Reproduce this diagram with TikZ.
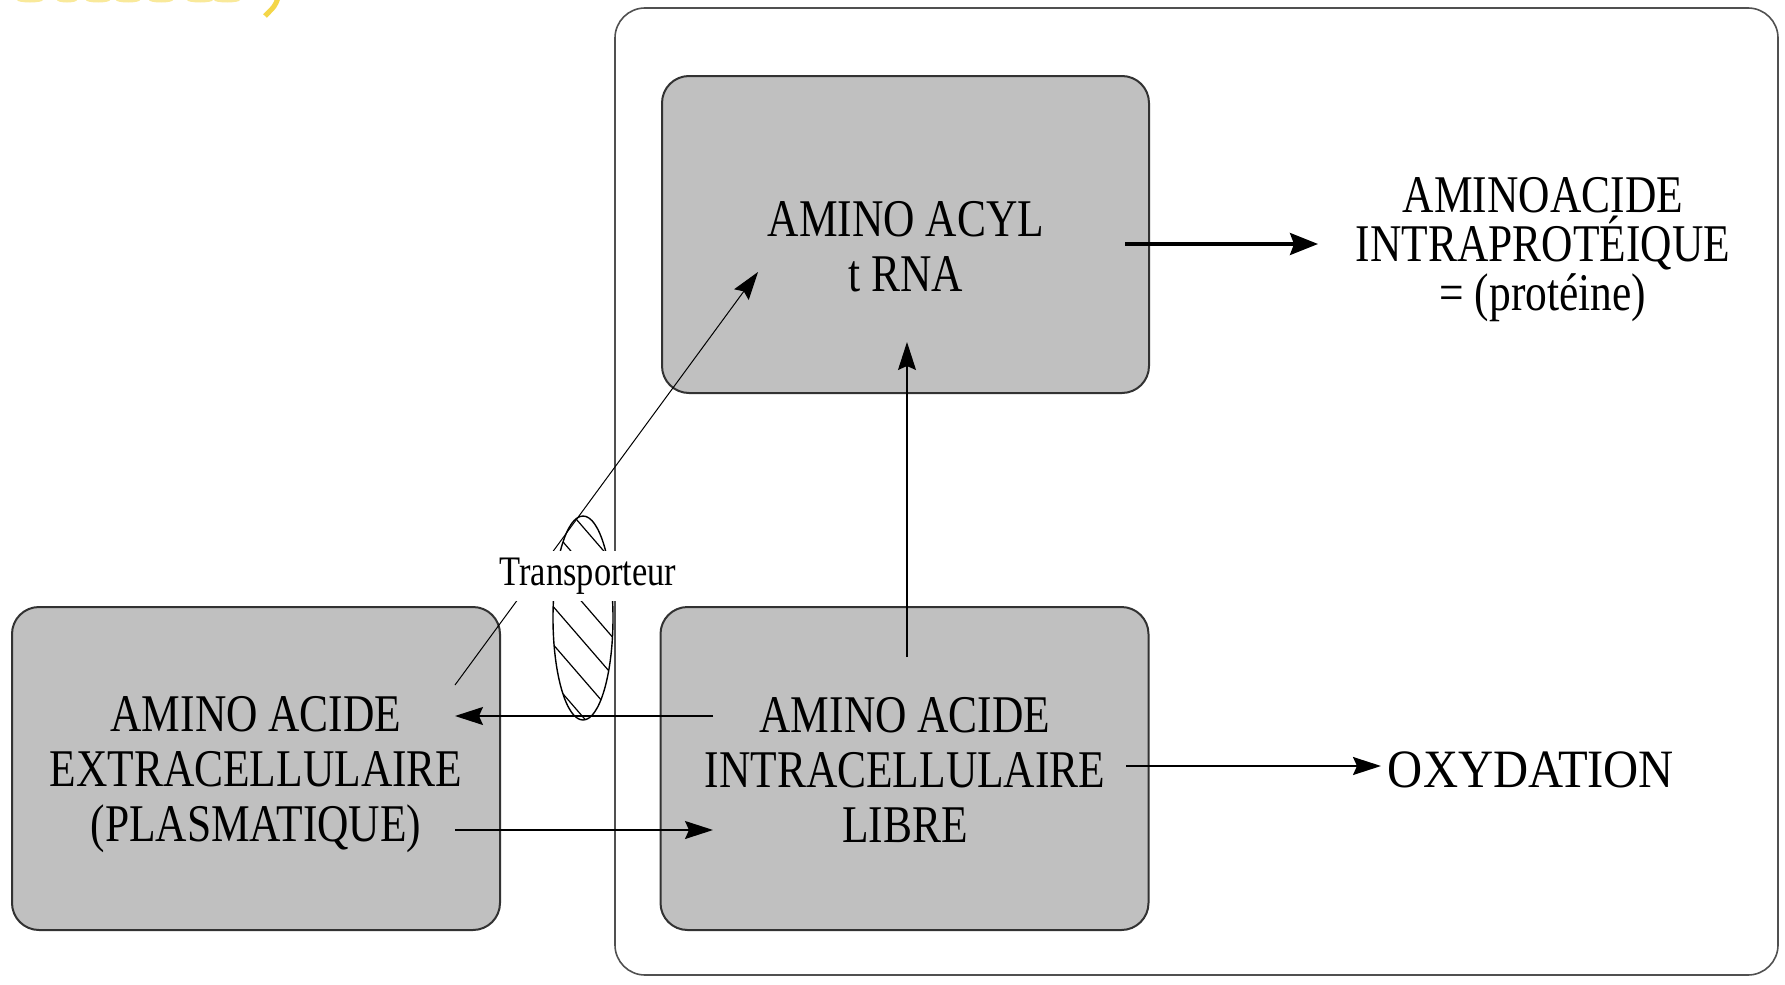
\documentclass[tikz,border=0pt]{standalone}
\usepackage{fontspec}
\setmainfont{Liberation Serif}[FakeStretch=0.82]
\newfontfamily\widefont{Liberation Serif}[FakeStretch=0.9]
\usetikzlibrary{arrows.meta,calc,shapes.geometric}
\definecolor{boxgray}{RGB}{192,192,192}
\definecolor{boxline}{RGB}{50,50,50}
\definecolor{cellline}{RGB}{80,80,80}
\definecolor{ttlyellow}{RGB}{244,214,72}
\begin{document}
\begin{tikzpicture}[x=0.5pt,y=-0.5pt,
  box/.style={draw=boxline,line width=1pt,fill=boxgray,rounded corners=13.5pt,minimum width=244pt,minimum height=161.5pt,inner sep=0pt},
  cellbox/.style={draw=cellline,line width=0.8pt,rounded corners=15pt,minimum width=581.5pt,minimum height=483.5pt,inner sep=0pt},
  lbl/.style={font=\fontsize{26.5pt}{27.5pt}\selectfont,align=center,inner sep=0pt},
  arr/.style={-{Stealth[length=14pt,width=9pt,inset=2pt]},line width=0.6pt},
  trlbl/.style={font=\fontsize{21pt}{21pt}\selectfont,fill=white,inner xsep=1pt,inner ysep=3.5pt},
  hatchell/.style={draw,ellipse,line width=0.7pt,minimum width=30pt,minimum height=102pt,inner sep=0pt},
]
\useasboundingbox (0,0) rectangle (1785,985);

% partial yellow title at the top edge
\begin{scope}
\clip (0,0) rectangle (1785,985);
\foreach \xc/\rx in {30/13,67/10,98/12,128/12,161/12,200/13,227/13}
  \fill[ttlyellow!55] (\xc,0) ellipse [x radius=\rx, y radius=2.5];
\draw[ttlyellow,line width=2.5pt] (278,-2) .. controls (275,6) .. (265,16);
\end{scope}

% cell and boxes
\node[cellbox] (cell) at (1196.5,491.5) {};
\node[box,minimum width=243.5pt,minimum height=158.5pt] (acyl) at (905.5,234.5) {};
\node[box] (intra) at (904.5,768.5) {};
\node[box] (extra) at (256,768.5) {};

% texts
\node[lbl] (acylT) at (906,247) {AMINO ACYL\\t RNA};
\node[lbl] (intraT) at (905,770) {AMINO ACIDE\\INTRACELLULAIRE\\LIBRE};
\node[lbl] (extraT) at (256,775) {AMINO ACIDE\\EXTRACELLULAIRE\\(PLASMATIQUE)};
\node[lbl,font=\fontsize{26.5pt}{24.5pt}\selectfont] (prot) at (1543,250) {AMINOACIDE\\INTRAPROTÉIQUE\\= (protéine)};
\node[lbl,font=\widefont\fontsize{27pt}{27pt}\selectfont] (oxy) at (1531,770) {OXYDATION};

% transporter
\node[hatchell,path picture={
  \foreach \c in {-91,-53,-15,23,61,99}
    \draw[line width=0.6pt] ($(path picture bounding box.center)+(-45,\c-52)$) -- ($(path picture bounding box.center)+(45,\c+52)$);
}] (trans) at (583,618) {};

% connector end points
\coordinate (dA) at (455,685);
\coordinate (dB) at (758,272);
\coordinate (vA) at (907,657);
\coordinate (vB) at (907,342);
\coordinate (lA) at (713,716);
\coordinate (lB) at (455,716);
\coordinate (rA) at (455,830);
\coordinate (rB) at (713,830);
\coordinate (pA) at (1125,244);
\coordinate (pB) at (1318,244);
\coordinate (oA) at (1126,766);
\coordinate (oB) at (1381,766);

% connectors
\draw[arr,line width=0.5pt] (dA) -- (dB);
\draw[arr] (vA) -- (vB);
\draw[arr,line width=0.7pt] (lA) -- (lB);
\draw[arr,line width=0.7pt] (rA) -- (rB);
\draw[arr,line width=1.6pt,-{Stealth[length=14pt,width=11pt,inset=2pt]}] (pA) -- (pB);
\draw[arr,line width=0.9pt] (oA) -- (oB);

% label over the membrane
\node[trlbl] (transL) at (588,576) {Transporteur};
\end{tikzpicture}
\end{document}
